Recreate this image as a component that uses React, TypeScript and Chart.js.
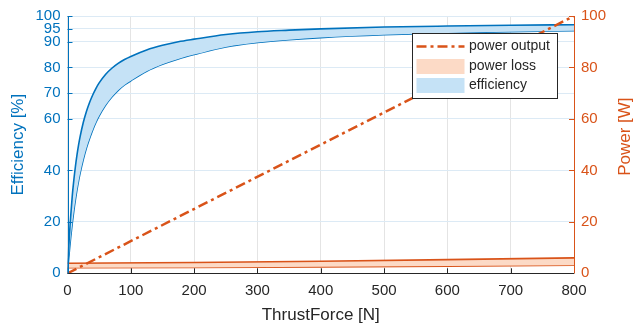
import React, { useEffect, useRef } from "react";
import { Chart, registerables } from "chart.js";
Chart.register(...registerables);

// ---- data ----
const thrustForce = [0, 1, 2, 3, 4, 5, 7.5, 10, 12.5, 15, 17.5, 20, 25, 30, 35, 40, 45, 50, 60, 70, 80, 90, 100, 125, 150, 175, 200, 250, 300, 350, 400, 500, 600, 700, 800];
const efficiencyUpper = [0, 5.4, 10.2, 14.6, 18.5, 22, 30, 36.2, 41.5, 46, 49.9, 53.2, 58.7, 63, 66.5, 69.4, 71.9, 74, 77.3, 79.7, 81.6, 83.1, 84.3, 86.8, 88.6, 90, 91, 92.8, 93.9, 94.5, 95, 95.7, 96.1, 96.4, 96.6];
const efficiencyLower = [0, 3.1, 6, 8.8, 11.4, 13.8, 19.4, 24.3, 28.6, 32.5, 35.9, 39, 44.3, 48.8, 52.5, 55.8, 58.7, 61.2, 65.3, 68.5, 71.1, 73.2, 74.8, 78.5, 81.2, 83.3, 85, 88, 89.7, 90.8, 91.6, 92.7, 93.4, 93.9, 94.3];
const lossForce = [0, 200, 400, 600, 800];
const powerLossLow = [2.2, 2.3, 2.5, 2.8, 3.1];
const powerLossHigh = [3.9, 4.2, 4.7, 5.3, 6.0];
const outputForce = [0, 800];
const powerOutput = [0, 100];
const efficiencyTicks = [0, 20, 40, 60, 70, 80, 90, 95, 100];
const powerTicks = [0, 20, 40, 60, 80, 100];
const forceTicks = [0, 100, 200, 300, 400, 500, 600, 700, 800];
const legendLabels = ["power output", "power loss", "efficiency"];

const BLUE = "#0072BD";
const ORANGE = "#D95319";
const BLUE_FILL = "#C5E2F6";
const ORANGE_FILL = "#FCDAC6";
const DARK = "#262626";
const FONT = "'Liberation Sans', Arial, Helvetica, sans-serif";
const DASH = [10, 4, 3, 4];

const toPts = (xs: number[], ys: number[]) => xs.map((x, i) => ({ x, y: ys[i] }));

const decorPlugin = {
  id: "decor",
  afterDatasetsDraw(chart: any) {
    const { ctx, chartArea: a, scales } = chart;
    const x = scales.x, yl = scales.yL, yr = scales.yR;
    const tl = 5;
    ctx.save();
    ctx.lineWidth = 1;
    ctx.strokeStyle = DARK;
    forceTicks.forEach((v) => {
      const px = Math.round(x.getPixelForValue(v)) + 0.5;
      ctx.beginPath();
      ctx.moveTo(px, a.bottom);
      ctx.lineTo(px, a.bottom - tl);
      ctx.stroke();
    });
    ctx.strokeStyle = BLUE;
    efficiencyTicks.forEach((v) => {
      const py = Math.round(yl.getPixelForValue(v)) + 0.5;
      ctx.beginPath();
      ctx.moveTo(a.left, py);
      ctx.lineTo(a.left + tl, py);
      ctx.stroke();
    });
    ctx.strokeStyle = ORANGE;
    powerTicks.forEach((v) => {
      const py = Math.round(yr.getPixelForValue(v)) + 0.5;
      ctx.beginPath();
      ctx.moveTo(a.right, py);
      ctx.lineTo(a.right - tl, py);
      ctx.stroke();
    });
    ctx.strokeStyle = DARK;
    ctx.beginPath();
    ctx.moveTo(a.left, Math.round(a.bottom) + 0.5);
    ctx.lineTo(a.right, Math.round(a.bottom) + 0.5);
    ctx.stroke();
    ctx.strokeStyle = BLUE;
    ctx.beginPath();
    ctx.moveTo(Math.round(a.left) + 0.5, a.top);
    ctx.lineTo(Math.round(a.left) + 0.5, a.bottom);
    ctx.stroke();
    ctx.strokeStyle = ORANGE;
    ctx.beginPath();
    ctx.moveTo(Math.round(a.right) + 0.5, a.top);
    ctx.lineTo(Math.round(a.right) + 0.5, a.bottom);
    ctx.stroke();

    ctx.font = `17px ${FONT}`;
    ctx.textAlign = "center";
    ctx.textBaseline = "middle";
    ctx.fillStyle = DARK;
    ctx.fillText("ThrustForce [N]", (a.left + a.right) / 2, a.bottom + 42);
    ctx.save();
    ctx.translate(a.left - 49, (a.top + a.bottom) / 2);
    ctx.rotate(-Math.PI / 2);
    ctx.fillStyle = BLUE;
    ctx.fillText("Efficiency [%]", 0, 0);
    ctx.restore();
    ctx.save();
    ctx.translate(a.right + 51, (a.top + a.bottom) / 2 - 8);
    ctx.rotate(-Math.PI / 2);
    ctx.fillStyle = ORANGE;
    ctx.fillText("Power [W]", 0, 0);
    ctx.restore();
    ctx.restore();
  },
  afterDraw(chart: any) {
    const { ctx, chartArea: a } = chart;
    const bx = a.right - 162, by = a.top + 17, bw = 145, bh = 65;
    ctx.save();
    ctx.fillStyle = "#FFFFFF";
    ctx.fillRect(bx, by, bw, bh);
    ctx.strokeStyle = "#262626";
    ctx.lineWidth = 1;
    ctx.strokeRect(Math.round(bx) + 0.5, Math.round(by) + 0.5, bw, bh);
    const rows = [by + 13.5, by + 33.5, by + 52.5];
    const sx0 = bx + 4.5, sx1 = bx + 52.5;
    ctx.strokeStyle = ORANGE;
    ctx.lineWidth = 2.5;
    ctx.setLineDash(DASH);
    ctx.beginPath();
    ctx.moveTo(sx0, rows[0]);
    ctx.lineTo(sx1, rows[0]);
    ctx.stroke();
    ctx.setLineDash([]);
    ctx.fillStyle = ORANGE_FILL;
    ctx.fillRect(sx0, rows[1] - 7.5, sx1 - sx0, 15);
    ctx.fillStyle = BLUE_FILL;
    ctx.fillRect(sx0, rows[2] - 7.5, sx1 - sx0, 15);
    ctx.fillStyle = DARK;
    ctx.font = `14px ${FONT}`;
    ctx.textAlign = "left";
    ctx.textBaseline = "middle";
    legendLabels.forEach((t, i) => ctx.fillText(t, bx + 57, rows[i]));
    ctx.restore();
  },
};

export default function App() {
  const ref = useRef<HTMLCanvasElement>(null);
  useEffect(() => {
    const canvas = ref.current!;
    const chart = new Chart(canvas, {
      type: "line",
      data: {
        datasets: [
          {
            label: "power output",
            data: toPts(outputForce, powerOutput),
            yAxisID: "yR",
            borderColor: ORANGE,
            borderWidth: 2.5,
            borderDash: DASH,
            pointRadius: 0,
            fill: false,
          },
          {
            label: "power loss high",
            data: toPts(lossForce, powerLossHigh),
            yAxisID: "yR",
            borderColor: ORANGE,
            borderWidth: 1.6,
            pointRadius: 0,
            backgroundColor: ORANGE_FILL,
            fill: { target: 2 },
          },
          {
            label: "power loss low",
            data: toPts(lossForce, powerLossLow),
            yAxisID: "yR",
            borderColor: ORANGE,
            borderWidth: 1.6,
            pointRadius: 0,
            fill: false,
          },
          {
            label: "efficiency upper",
            data: toPts(thrustForce, efficiencyUpper),
            yAxisID: "yL",
            borderColor: BLUE,
            borderWidth: 1.6,
            pointRadius: 0,
            cubicInterpolationMode: "monotone",
            backgroundColor: BLUE_FILL,
            fill: { target: 4 },
          },
          {
            label: "efficiency lower",
            data: toPts(thrustForce, efficiencyLower),
            yAxisID: "yL",
            borderColor: BLUE,
            borderWidth: 1.6,
            pointRadius: 0,
            cubicInterpolationMode: "monotone",
            fill: false,
          },
        ],
      },
      options: {
        responsive: false,
        animation: false,
        events: [],
        layout: { padding: { top: 15, left: 0, right: 0, bottom: 0 } },
        plugins: { legend: { display: false }, tooltip: { enabled: false } },
        scales: {
          x: {
            type: "linear",
            position: "bottom",
            min: 0,
            max: 800,
            afterBuildTicks: (s: any) => {
              s.ticks = forceTicks.map((v) => ({ value: v }));
            },
            afterFit: (s: any) => {
              s.height = 53.7;
            },
            grid: { color: "#E4E4E4", lineWidth: 1, drawTicks: false },
            border: { display: false },
            ticks: { color: DARK, font: { size: 15, family: FONT }, padding: 9, maxRotation: 0 },
          },
          yL: {
            type: "linear",
            position: "left",
            min: 0,
            max: 100,
            afterBuildTicks: (s: any) => {
              s.ticks = efficiencyTicks.map((v) => ({ value: v }));
            },
            afterFit: (s: any) => {
              s.width = 67.5;
            },
            grid: { color: "#DCEAF5", lineWidth: 1, drawTicks: false },
            border: { display: false },
            ticks: { color: BLUE, font: { size: 15, family: FONT }, padding: 7 },
          },
          yR: {
            type: "linear",
            position: "right",
            min: 0,
            max: 100,
            afterBuildTicks: (s: any) => {
              s.ticks = powerTicks.map((v) => ({ value: v }));
            },
            afterFit: (s: any) => {
              s.width = 59;
            },
            grid: { display: false, drawTicks: false },
            border: { display: false },
            ticks: { color: ORANGE, font: { size: 15, family: FONT }, padding: 7 },
          },
        },
      },
      plugins: [decorPlugin],
    } as any);
    return () => chart.destroy();
  }, []);
  return (
    <div style={{ position: "fixed", left: 0, top: 0, width: 633, height: 327, background: "#fff" }}>
      <canvas ref={ref} width={633} height={327} style={{ width: 633, height: 327, display: "block" }} />
    </div>
  );
}
